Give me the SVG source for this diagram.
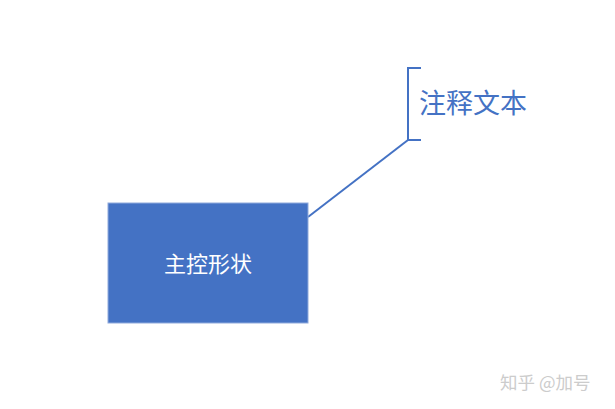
<svg xmlns="http://www.w3.org/2000/svg" width="615" height="409" viewBox="0 0 615 409">
<style>
.cjk{font-family:"Noto Sans CJK SC","Noto Sans",sans-serif}
.ln{stroke:#4472C4;stroke-width:2;fill:none}
</style>
<rect width="615" height="409" fill="#ffffff"/>
<g id="connectors">
<path class="ln" d="M421,68 H408 V140 H421"/>
<line class="ln" x1="408" y1="140" x2="308" y2="217"/>
</g>
<g id="main-shape">
<rect x="108" y="203" width="200" height="120" fill="#4472C4" stroke="#8FAADC" stroke-width="1"/>
<text class="cjk" x="208" y="272" font-size="22" fill="#ffffff" text-anchor="middle">主控形状</text>
</g>
<g id="callout">
<text class="cjk" x="419" y="113" font-size="27" fill="#4472C4">注释文本</text>
</g>
<text class="cjk" x="500" y="389" font-size="17.5" fill="#cccccc">知乎 @加号</text>
</svg>
